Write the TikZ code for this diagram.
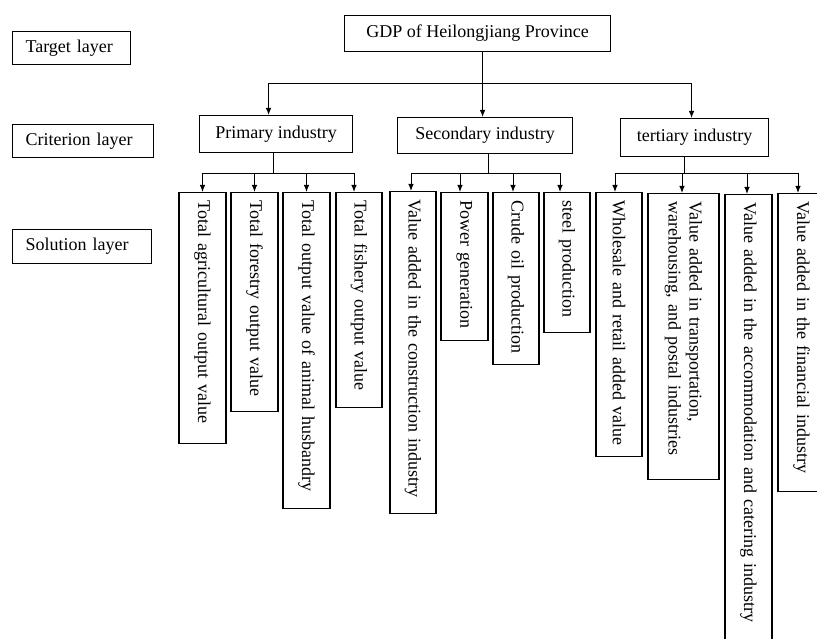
\documentclass[tikz,border=0pt]{standalone}
\usepackage{fontspec}
\setmainfont{Liberation Serif}
\usetikzlibrary{arrows.meta}

\begin{document}
\begin{tikzpicture}[x=1pt, y=-1pt, font=\fontsize{18}{21}\selectfont]
\tikzset{
    layerbox/.style={rectangle, draw=black, line width=1.1pt, anchor=north west, inner xsep=13pt, inner ysep=0pt, align=left},
    critbox/.style={rectangle, draw=black, line width=1.1pt, anchor=north west, inner sep=0pt, text centered},
    solbox/.style={rectangle, draw=black, line width=1.1pt, rotate=-90, anchor=west, inner xsep=8pt, inner ysep=0pt, align=left},
    myarrow/.style={->, >={Latex[length=7pt, width=5.5pt]}, line width=1pt}
}
\useasboundingbox (0,0) rectangle (817,639);
\clip (0,0) rectangle (817,639);

% layer labels on the left
\node[layerbox, text width=92pt, minimum height=33pt] (target) at (12,31) {Target layer};
\node[layerbox, text width=115pt, minimum height=33pt] (criterion) at (12,124) {Criterion layer};
\node[layerbox, text width=113pt, minimum height=34pt] (solution) at (12,229) {Solution layer};

\node[critbox, minimum width=266pt, minimum height=36pt] (gdp) at (344,15) {GDP of Heilongjiang Province};
\node[critbox, minimum width=153pt, minimum height=37pt] (primary) at (199,115) {Primary industry};
\node[critbox, minimum width=175pt, minimum height=36pt] (secondary) at (397,117) {Secondary industry};
\node[critbox, minimum width=148pt, minimum height=38pt] (tertiary) at (620,118) {tertiary industry};

% solution boxes, text turned to read downwards
\node[solbox, text width=235pt, minimum height=47pt] (s1) at (202.5,192) {Total agricultural output value};
\node[solbox, text width=203pt, minimum height=47pt] (s2) at (254.5,192) {Total forestry output value};
\node[solbox, text width=300pt, minimum height=47pt] (s3) at (306.5,192) {Total output value of animal husbandry};
\node[solbox, text width=199pt, minimum height=46pt] (s4) at (359,192) {Total fishery output value};
\node[solbox, text width=306pt, minimum height=46pt] (s5) at (413,191) {Value added in the construction industry};
\node[solbox, text width=132pt, minimum height=47pt] (s6) at (464.5,192) {Power generation};
\node[solbox, text width=156pt, minimum height=46pt] (s7) at (516,192) {Crude oil production};
\node[solbox, text width=124pt, minimum height=46pt] (s8) at (567,192) {steel production};
\node[solbox, text width=248pt, minimum height=46pt] (s9) at (619,192) {Wholesale and retail added value};
\node[solbox, text width=270pt, minimum height=71pt] (s10) at (683.5,193) {Value added in transportation,\\ warehousing, and postal industries};
\node[solbox, text width=504pt, minimum height=47pt] (s11) at (748.5,194) {Value added in the accommodation and catering industry};
\node[solbox, text width=282pt, minimum height=47pt] (s12) at (801.5,193) {Value added in the financial industry};

% target -> criterion
\draw[myarrow] ([xshift=5]gdp.south) -- ++(0,31) -| ([xshift=-7.5]primary.north);
\draw[myarrow] ([xshift=5]gdp.south) -- ++(0,31) -| ([xshift=-2.5]secondary.north);
\draw[myarrow] ([xshift=5]gdp.south) -- ++(0,31) -| ([xshift=-3]tertiary.north);

% criterion -> solution
\foreach \b/\dx in {s1/0, s2/0, s3/0, s4/-5}
    \draw[myarrow] ([xshift=-2.5]primary.south) -- ++(0,20) -| ([xshift=\dx]\b.west);
\foreach \b/\dx in {s5/-2, s6/-4.5, s7/-3, s8/-7}
    \draw[myarrow] ([xshift=3.5]secondary.south) -- ++(0,19) -| ([xshift=\dx]\b.west);
\foreach \b/\dx in {s9/-4, s10/-1.5, s11/-1.5, s12/-3.5}
    \draw[myarrow] ([xshift=-10]tertiary.south) -- ++(0,16) -| ([xshift=\dx]\b.west);

\end{tikzpicture}
\end{document}
